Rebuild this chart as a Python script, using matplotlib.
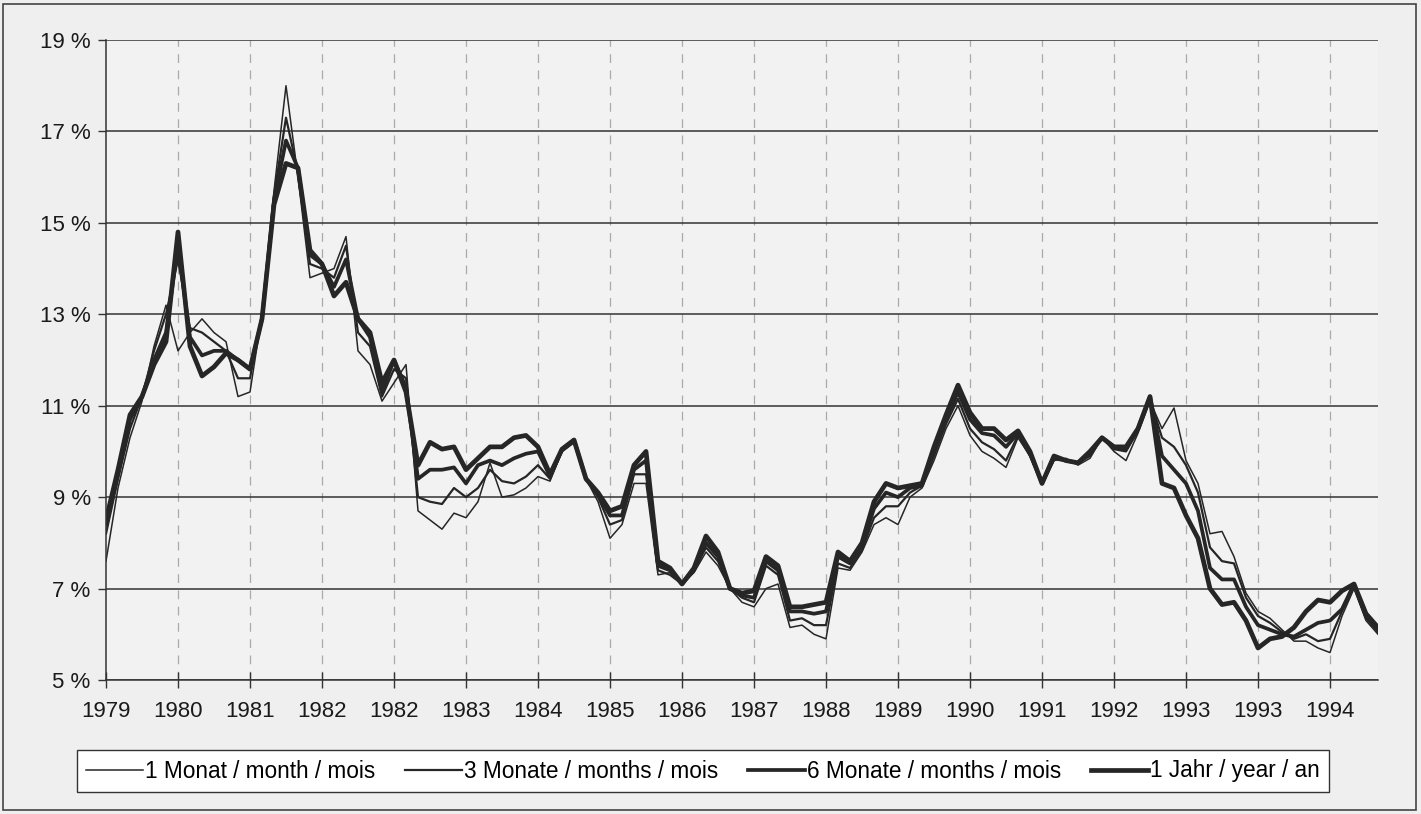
import matplotlib
matplotlib.use("Agg")
import matplotlib.pyplot as plt
from matplotlib.patches import Rectangle

plt.rcParams['font.family'] = ['Liberation Sans', 'DejaVu Sans']

tick_labels = ['1979', '1980', '1981', '1982', '1982', '1983', '1984', '1985', '1986',
               '1987', '1988', '1989', '1990', '1991', '1992', '1993', '1993', '1994']
steps_per_tick = 6

month1 = [7.6, 9.2, 10.3, 11.1, 12.3, 13.2, 12.2, 12.6, 12.9, 12.6, 12.4, 11.2, 11.3, 13.0, 15.7,
          18.0, 16.0, 13.8, 13.9, 14.0, 14.7, 12.2, 11.9, 11.1, 11.5, 11.9, 8.7, 8.5, 8.3, 8.65,
          8.55, 8.9, 9.75, 9.0, 9.05, 9.2, 9.45, 9.35, 10.0, 10.2, 9.4, 8.9, 8.1, 8.4, 9.3,
          9.3, 7.3, 7.35, 7.1, 7.35, 7.8, 7.5, 7.0, 6.7, 6.6, 7.0, 7.1, 6.15, 6.2, 6.0,
          5.9, 7.45, 7.4, 7.8, 8.4, 8.55, 8.4, 9.0, 9.2, 9.8, 10.5, 11.0, 10.35, 10.0, 9.85,
          9.65, 10.3, 9.9, 9.3, 9.8, 9.85, 9.7, 9.85, 10.3, 10.0, 9.8, 10.4, 11.1, 10.5, 10.95,
          9.8, 9.3, 8.2, 8.25, 7.7, 6.9, 6.5, 6.35, 6.1, 5.85, 5.85, 5.7, 5.6, 6.4, 7.0,
          6.3, 6.0]
month3 = [8.2, 9.4, 10.5, 11.2, 12.2, 13.0, 14.2, 12.7, 12.6, 12.4, 12.2, 11.6, 11.6, 13.0, 15.6,
          17.3, 16.1, 14.1, 14.0, 13.8, 14.5, 12.6, 12.3, 11.2, 11.8, 11.6, 9.0, 8.9, 8.85, 9.2,
          9.0, 9.2, 9.6, 9.35, 9.3, 9.45, 9.7, 9.4, 10.0, 10.2, 9.4, 9.0, 8.4, 8.5, 9.5,
          9.5, 7.4, 7.3, 7.1, 7.4, 7.9, 7.6, 7.0, 6.8, 6.7, 7.5, 7.3, 6.3, 6.35, 6.2,
          6.2, 7.55, 7.45, 7.85, 8.55, 8.8, 8.8, 9.1, 9.25, 9.9, 10.6, 11.15, 10.5, 10.2, 10.05,
          9.8, 10.35, 9.9, 9.3, 9.85, 9.8, 9.75, 9.9, 10.3, 10.05, 10.0, 10.45, 11.15, 10.3, 10.1,
          9.7, 9.1, 7.9, 7.6, 7.55, 6.8, 6.4, 6.25, 6.05, 5.9, 6.0, 5.85, 5.9, 6.5, 7.05,
          6.35, 6.05]
month6 = [8.4, 9.5, 10.7, 11.2, 12.0, 12.6, 14.5, 12.5, 12.1, 12.2, 12.2, 12.0, 11.8, 12.9, 15.5,
          16.8, 16.2, 14.3, 14.1, 13.6, 14.2, 12.9, 12.5, 11.3, 12.0, 11.4, 9.4, 9.6, 9.6, 9.65,
          9.3, 9.7, 9.8, 9.7, 9.85, 9.95, 10.0, 9.45, 10.05, 10.25, 9.4, 9.05, 8.6, 8.6, 9.6,
          9.8, 7.5, 7.4, 7.1, 7.4, 8.0, 7.7, 7.0, 6.85, 6.8, 7.6, 7.4, 6.5, 6.5, 6.45,
          6.5, 7.7, 7.55, 7.95, 8.75, 9.1, 9.0, 9.2, 9.25, 10.0, 10.7, 11.3, 10.7, 10.4, 10.35,
          10.1, 10.4, 9.95, 9.3, 9.85, 9.8, 9.75, 9.95, 10.3, 10.1, 10.05, 10.5, 11.2, 9.9, 9.6,
          9.3, 8.7, 7.45, 7.2, 7.2, 6.6, 6.2, 6.1, 6.0, 5.95, 6.1, 6.25, 6.3, 6.55, 7.1,
          6.4, 6.1]
year1 = [8.5, 9.6, 10.8, 11.2, 11.9, 12.4, 14.8, 12.3, 11.65, 11.85, 12.15, 12.0, 11.8, 12.9, 15.4,
         16.3, 16.2, 14.4, 14.1, 13.4, 13.7, 12.9, 12.6, 11.5, 12.0, 11.3, 9.7, 10.2, 10.05, 10.1,
         9.6, 9.85, 10.1, 10.1, 10.3, 10.35, 10.1, 9.5, 10.05, 10.25, 9.4, 9.1, 8.7, 8.8, 9.7,
         10.0, 7.6, 7.45, 7.1, 7.45, 8.15, 7.8, 7.0, 6.9, 6.95, 7.7, 7.5, 6.6, 6.6, 6.65,
         6.7, 7.8, 7.6, 8.0, 8.9, 9.3, 9.2, 9.25, 9.3, 10.1, 10.8, 11.45, 10.85, 10.5, 10.5,
         10.25, 10.45, 10.0, 9.3, 9.9, 9.8, 9.75, 10.0, 10.3, 10.1, 10.1, 10.5, 11.2, 9.3, 9.2,
         8.6, 8.1, 7.0, 6.65, 6.7, 6.3, 5.7, 5.9, 5.95, 6.15, 6.5, 6.75, 6.7, 6.95, 7.1,
         6.45, 6.15]

series = [
    (month1, '1 Monat / month / mois', 1.1),
    (month3, '3 Monate / months / mois', 1.6),
    (month6, '6 Monate / months / mois', 2.7),
    (year1, '1 Jahr / year / an', 3.4),
]

W, H = 1421, 814
fig = plt.figure(figsize=(W / 100, H / 100), dpi=100, facecolor='#efefef')
ax = fig.add_axes([106 / W, 1 - 680 / H, (1378 - 106) / W, (680 - 40) / H])
ax.set_facecolor('#f2f2f2')

handles = []
for vals, lab, lw in series:
    xs = [i / steps_per_tick for i in range(len(vals))]
    h, = ax.plot(xs, vals, color='#262626', lw=lw, label=lab, solid_joinstyle='round')
    handles.append(h)

ax.set_xlim(0, (1378 - 106) / 72)
ax.set_ylim(5, 19)
yt = list(range(5, 20, 2))
ax.set_yticks(yt)
ax.set_yticklabels([f'{v} %' for v in yt], fontsize=16)
ax.set_xticks(range(len(tick_labels)))
ax.set_xticklabels(tick_labels, fontsize=16)

ax.grid(axis='y', color='#333333', lw=1.1, ls='-')
for k in range(1, len(tick_labels)):
    ax.axvline(k, color='#aaaaaa', lw=0.9, ls=(0, (7, 6)), zorder=0.5)
ax.set_axisbelow(True)

for s in ['top', 'right']:
    ax.spines[s].set_visible(False)
ax.spines['left'].set_color('#333333')
ax.spines['bottom'].set_color('#333333')
ax.spines['left'].set_linewidth(1.1)
ax.spines['bottom'].set_linewidth(1.1)
ax.tick_params(axis='x', direction='inout', length=12, width=1, color='#333333', pad=9, labelcolor='#1a1a1a')
ax.tick_params(axis='y', direction='out', length=6, width=1, color='#333333', pad=5, labelcolor='#1a1a1a')

leg = fig.legend(handles=handles, loc='center', bbox_to_anchor=(703 / W, 1 - 771 / H), ncol=4,
                 fontsize=16.3, frameon=True, fancybox=False, edgecolor='#333333',
                 facecolor='white', framealpha=1, handlelength=2.5, handletextpad=0.12,
                 columnspacing=1.3, borderpad=0.4)
leg.get_frame().set_linewidth(1.0)

fig.patches.append(Rectangle((3 / W, 4 / H), (W - 8) / W, (H - 8) / H, transform=fig.transFigure,
                             fill=False, edgecolor='#444444', lw=1.2))

fig.savefig('out.png', dpi=100, facecolor=fig.get_facecolor())
